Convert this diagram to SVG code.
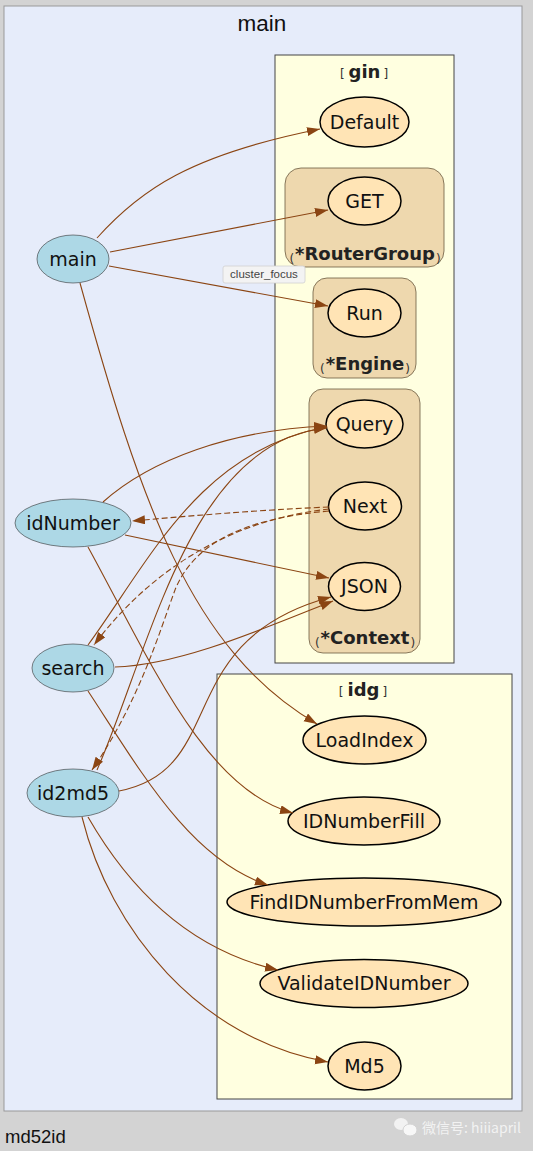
<svg xmlns="http://www.w3.org/2000/svg" width="533" height="1151" viewBox="0 0 533 1151">
<style>
.nl{font-family:"DejaVu Sans",Verdana,sans-serif;font-size:19px;fill:#111;text-anchor:middle}
.tl{font-family:"DejaVu Sans",Verdana,sans-serif;font-size:18px;font-weight:bold;fill:#222;text-anchor:middle}
.par{font-size:12px;font-weight:normal;fill:#333}
.pkg{fill:#ffffe0;stroke:#444;stroke-width:1}
.typ{fill:#eed8ae;stroke:#6b5a40;stroke-width:0.8}
.fn{fill:#ffe4b5;stroke:#000;stroke-width:1.5}
.mf{fill:#add8e6;stroke:#333;stroke-width:0.6}
.e{fill:none;stroke:#8b4513;stroke-width:1.1;marker-end:url(#ah)}
.d{stroke-dasharray:6,3}
</style>
<defs>
<marker id="ah" markerUnits="userSpaceOnUse" markerWidth="14" markerHeight="10" refX="13" refY="4.5" orient="auto">
<path d="M0,0 L13,4.5 L0,9 z" fill="#8b4513"/>
</marker>
</defs>
<rect x="0" y="0" width="533" height="1151" fill="#d3d3d3"/>
<g id="cluster_focus">
<rect x="4" y="6" width="518" height="1105" fill="#e6ecfa" stroke="#999" stroke-width="1"/>
<text x="262" y="31" font-family="Liberation Sans,Arial,sans-serif" font-size="22.5" fill="#111" text-anchor="middle">main</text>
</g>
<g id="cluster_gin">
<rect class="pkg" x="275" y="55" width="179" height="608"/>
<text class="tl" x="364" y="78"><tspan class="par">[</tspan><tspan dx="4">gin</tspan><tspan class="par" dx="3">]</tspan></text>
</g>
<g id="cluster_RouterGroup">
<rect class="typ" x="285" y="168" width="159" height="99" rx="16"/>
<text class="tl" x="365" y="260"><tspan class="par" dy="3">(</tspan><tspan dx="1" dy="-3">*RouterGroup</tspan><tspan class="par" dx="1" dy="3">)</tspan></text>
</g>
<g id="cluster_Engine">
<rect class="typ" x="313" y="278" width="103" height="100" rx="14"/>
<text class="tl" x="365" y="370"><tspan class="par" dy="3">(</tspan><tspan dx="1" dy="-3">*Engine</tspan><tspan class="par" dx="1" dy="3">)</tspan></text>
</g>
<g id="cluster_Context">
<rect class="typ" x="309" y="389" width="111" height="264" rx="14"/>
<text class="tl" x="365" y="644"><tspan class="par" dy="3">(</tspan><tspan dx="1" dy="-3">*Context</tspan><tspan class="par" dx="1" dy="3">)</tspan></text>
</g>
<g id="cluster_idg">
<rect class="pkg" x="217" y="674" width="295" height="425"/>
<text class="tl" x="363" y="696"><tspan class="par">[</tspan><tspan dx="4">idg</tspan><tspan class="par" dx="3">]</tspan></text>
</g>
<g id="node_Default"><ellipse class="fn" cx="364.5" cy="122" rx="44.5" ry="25"/><text class="nl" x="364.5" y="128.5">Default</text></g>
<g id="node_GET"><ellipse class="fn" cx="364.5" cy="201" rx="36.5" ry="24"/><text class="nl" x="364.5" y="207.5">GET</text></g>
<g id="node_Run"><ellipse class="fn" cx="364.5" cy="313" rx="36.5" ry="24"/><text class="nl" x="364.5" y="319.5">Run</text></g>
<g id="node_Query"><ellipse class="fn" cx="364.5" cy="424" rx="38.5" ry="24"/><text class="nl" x="364.5" y="430.5">Query</text></g>
<g id="node_Next"><ellipse class="fn" cx="365" cy="506" rx="36.5" ry="24"/><text class="nl" x="365" y="512.5">Next</text></g>
<g id="node_JSON"><ellipse class="fn" cx="364.5" cy="586.5" rx="36" ry="24"/><text class="nl" x="364.5" y="593">JSON</text></g>
<g id="node_LoadIndex"><ellipse class="fn" cx="364.5" cy="740" rx="61.5" ry="24"/><text class="nl" x="364.5" y="746.5">LoadIndex</text></g>
<g id="node_IDNumberFill"><ellipse class="fn" cx="364" cy="821" rx="76" ry="24"/><text class="nl" x="364" y="827.5">IDNumberFill</text></g>
<g id="node_FindIDNumberFromMem"><ellipse class="fn" cx="364" cy="902" rx="137" ry="24"/><text class="nl" x="364" y="908.5">FindIDNumberFromMem</text></g>
<g id="node_ValidateIDNumber"><ellipse class="fn" cx="364" cy="983.5" rx="104" ry="24"/><text class="nl" x="364" y="990">ValidateIDNumber</text></g>
<g id="node_Md5"><ellipse class="fn" cx="364.5" cy="1066" rx="36.5" ry="24"/><text class="nl" x="364.5" y="1072.5">Md5</text></g>
<g id="node_main"><ellipse class="mf" cx="73" cy="259" rx="36" ry="24"/><text class="nl" x="73" y="265.5">main</text></g>
<g id="node_idNumber"><ellipse class="mf" cx="73" cy="523" rx="58" ry="24"/><text class="nl" x="73" y="529.5">idNumber</text></g>
<g id="node_search"><ellipse class="mf" cx="73" cy="668" rx="41" ry="24"/><text class="nl" x="73" y="674.5">search</text></g>
<g id="node_id2md5"><ellipse class="mf" cx="73" cy="793" rx="46" ry="24"/><text class="nl" x="73" y="799.5">id2md5</text></g>
<g id="edges">
<path class="e" d="M97,238 C140,190 190,155 320,129"/>
<path class="e" d="M110,252 L328,210"/>
<path class="e" d="M109,266 L328,306"/>
<path class="e" d="M80,283 C140,500 190,650 317,724"/>
<path class="e" d="M103,502 C150,460 230,430 327,426"/>
<path class="e" d="M125,535 L329,578"/>
<path class="e" d="M88,547 C150,660 205,790 293,813"/>
<path class="e d" d="M329,507 C260,510 200,515 132,521"/>
<path class="e d" d="M329,509 C230,520 150,570 94,645"/>
<path class="e d" d="M329,511 C250,518 195,540 175,590 C160,630 140,700 92,770"/>
<path class="e" d="M88,645 C150,560 200,450 327,427"/>
<path class="e" d="M115,667 C180,665 260,630 333,601"/>
<path class="e" d="M88,691 C140,770 190,860 268,885"/>
<path class="e" d="M97,770 C150,650 190,440 327,428"/>
<path class="e" d="M119,791 C230,770 170,640 331,597"/>
<path class="e" d="M88,817 C130,890 190,950 278,970"/>
<path class="e" d="M82,817 C110,930 200,1040 328,1062"/>
</g>
<g id="tooltip">
<rect x="223" y="266" width="82" height="17" fill="#f3f3f3" stroke="#d0d0d0" stroke-width="0.8" rx="2"/>
<text x="264" y="278" font-family="Liberation Sans,Arial,sans-serif" font-size="11.5" fill="#444" text-anchor="middle">cluster_focus</text>
</g>
<text x="5" y="1143" font-family="Liberation Sans,Arial,sans-serif" font-size="18.5" fill="#111">md52id</text>
<g id="watermark">
<ellipse cx="401" cy="1124" rx="7" ry="6" fill="#f2f2f2"/>
<ellipse cx="410" cy="1130" rx="7" ry="6" fill="#f7f7f7" stroke="#d3d3d3" stroke-width="1"/>
<text x="422" y="1133" font-family="Noto Sans CJK SC,sans-serif" font-size="14" fill="#f2f2f2">微信号: hiiiapril</text>
</g>
</svg>
